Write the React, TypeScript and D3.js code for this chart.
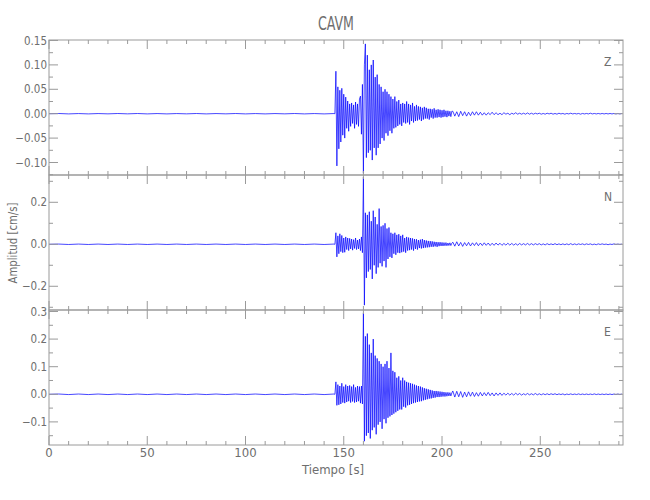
import React from 'react';
import * as d3 from 'd3';

// ---- text ----
const TITLE = 'CAVM';
const X_LABEL = 'Tiempo [s]';
const Y_LABEL = 'Amplitud [cm/s]';
const COMPONENTS = ['Z', 'N', 'E'];

// ---- axes ----
const X_DOMAIN = [0, 292.1];
const X_TICKS = [0, 50, 100, 150, 200, 250];
const X_MINOR_STEP = 10;

const Z_DOMAIN = [-0.1256, 0.151];
const Z_TICKS = [0.15, 0.1, 0.05, 0.0, -0.05, -0.1];
const Z_TICK_LABELS = ['0.15', '0.10', '0.05', '0.00', '\u22120.05', '\u22120.10'];
const Z_MINOR_STEP = 0.025;

const N_DOMAIN = [-0.313, 0.33];
const N_TICKS = [0.2, 0.0, -0.2];
const N_TICK_LABELS = ['0.2', '0.0', '\u22120.2'];
const N_MINOR_STEP = 0.1;

const E_DOMAIN = [-0.1837, 0.3054];
const E_TICKS = [0.3, 0.2, 0.1, 0.0, -0.1];
const E_TICK_LABELS = ['0.3', '0.2', '0.1', '0.0', '\u22120.1'];
const E_MINOR_STEP = 0.05;

// ---- sampled traces (values in 0.001 cm/s) ----
const NOISE_START = 0;
const NOISE_STEP = 5;
const ACTIVE_START = 145.5;
const ACTIVE_STEP = 0.5;
const TAIL_STEP = 1;

const Z_NOISE = [0, 0.4, -0.4, 0.3, -0.4, 0.3, -0.3, 0.4, -0.3, 0.4, -0.4, 0.3, -0.4, 0.3, -0.3, 0.4, -0.4, 0.3, -0.3, 0.4, -0.4, 0.3, -0.4, 0.3, -0.3, 0.4, -0.4, 0.3, -0.4, 0.3];
const Z_ACTIVE = [0, 87, -107, 55, -72, 48, -58, 52, -44, 40, -50, 34, -30, 26, -36, 20, -26, 22, -20, 18, -30, 24, -22, 20, -26, 30, 36, -42, 60, -122, 100, 143, -90, 120, -80, 90, -75, 100, -95, 110, -70, 75, -85, 80, -70, 60, -62, 55, -50, 45, -55, 50, -40, 45, -45, 40, -35, 35, -40, 30, -30, 35, -28, 25, -25, 28, -22, 20, -25, 22, -18, 20, -20, 25, -18, 20, -22, 18, -15, 22, -18, 15, -15, 18, -14, 15, -12, 14, -15, 12, -12, 14, -10, 12, -10, 10, -12, 10, -8, 9, -10, 11, -8, 8, -8, 9, -7, 8, -8, 7, -7, 8, -6, 6, -7, 6, -5, 5, -6, 5];
const Z_TAIL = [5, -5, 4, -6, 5, -4, 4, -5, 3, -4, 4, -3, 4, -3, 3, -3, 2, -3, 2, -2, 3, -2, 2, -2, 1, -2, 2, -1, 1, -2, 1, -1, 2, -1, 1, -1, 1, -1, 1.5, -1, 1, -1, 1, -0.5, 1, -1, 0.5, -1, 1, -0.5, 1, -1, 0.5, -1, 1, -0.5, 0.5, -1, 0.5, -0.5, 1, -0.5, 0.5, -0.5, 0.5, -1, 0.5, -0.5, 0.5, -0.5, 1, -0.5, 0.5, -0.5, 0.5, -0.5, 0.5, -0.5, 0.5, -0.5, 0.5, -0.5, 0.5, -0.5, 0.5, -0.5, 0.5];

const N_NOISE = [0, 1, -1, 1, -1, 1, -1, 1, -1, 1, -1, 1, -1, 1, -1, 1, -1, 1, -1, 1, -1, 1, -1, 1, -1, 1, -1, 1, -1, 1];
const N_ACTIVE = [0, 55, -60, 40, -45, 50, -35, 42, -40, 30, -38, 35, -25, 30, -30, 28, -22, 25, -28, 22, -20, 30, -25, 20, -22, 25, -30, 35, -40, 320, -290, 150, -160, 140, -130, 155, -120, 110, -165, 160, -100, 130, -140, 95, -110, 170, -90, 85, -105, 90, -80, 100, -110, 75, -70, 80, -60, 55, -65, 50, -45, 55, -50, 45, -40, 48, -42, 40, -38, 45, -35, 30, -40, 35, -30, 32, -28, 30, -25, 28, -30, 25, -22, 24, -25, 20, -18, 22, -20, 25, -18, 20, -16, 18, -15, 16, -14, 15, -12, 14, -12, 12, -10, 11, -12, 10, -9, 10, -8, 9, -8, 8, -7, 8, -7, 6, -6, 7, -6, 5];
const N_TAIL = [10, -9, 12, -8, 9, -10, 8, -7, 9, -8, 7, -6, 8, -7, 6, -6, 7, -5, 6, -6, 5, -5, 6, -4, 5, -5, 4, -4, 5, -4, 4, -4, 3, -4, 4, -3, 3, -3, 4, -3, 3, -3, 3, -2, 3, -3, 2, -3, 3, -2, 2, -2, 3, -2, 2, -2, 2, -2, 2, -2, 3, -2, 2, -2, 2, -1, 2, -2, 2, -1, 2, -2, 1, -2, 2, -1, 2, -1, 1, -2, 1, -1, 2, -1, 1, -1, 1];

const E_NOISE = [0, 1, -1, 1, -1, 1, -1, 1, -1, 1, -1, 1, -1, 1, -1, 1, -1, 1, -1, 1, -1, 1, -1, 1, -1, 1, -1, 1, -1, 1];
const E_ACTIVE = [0, 45, -40, 35, -38, 30, -35, 40, -30, 28, -32, 35, -28, 30, -25, 32, -30, 28, -26, 35, -30, 25, -28, 30, -25, 28, -32, 30, -35, 295, -170, 210, -150, 220, -140, 180, -160, 150, -130, 200, -120, 140, -145, 130, -110, 120, -100, 110, -125, 100, -90, 110, -105, 120, -85, 95, -80, 150, -75, 85, -70, 80, -65, 60, -60, 65, -55, 50, -55, 60, -45, 50, -48, 45, -40, 42, -38, 40, -35, 38, -32, 35, -30, 32, -28, 30, -26, 28, -25, 25, -22, 22, -20, 20, -18, 18, -16, 16, -15, 14, -13, 12, -12, 12, -10, 11, -10, 10, -9, 9, -8, 8, -8, 7, -7, 7, -6, 6, -6, 5];
const E_TAIL = [12, -10, 11, -9, 10, -11, 8, -9, 9, -7, 8, -8, 6, -7, 7, -6, 6, -5, 7, -5, 5, -6, 5, -4, 5, -4, 4, -3, 4, -3, 3, -3, 4, -2, 3, -3, 2, -2, 3, -2, 2, -2, 3, -2, 2, -2, 2, -1.5, 2, -1.5, 2, -1, 2, -1.5, 1.5, -1, 1.5, -2, 1, -1, 1.5, -1, 1, -1, 1.5, -1, 1, -1, 1, -1, 1, -1, 1.5, -1, 1, -1, 1, -1, 1, -1, 1, -1, 1, -1, 1, -1, 1];

const FONT = "'Liberation Sans Narrow', 'DejaVu Sans Condensed', sans-serif";
const AXIS_COLOR = '#9a9a9a';
const TEXT_COLOR = '#6e6e6e';
const TRACE_COLOR = '#0000ff';

function buildSeries(noise: number[], active: number[], tail: number[]): [number, number][] {
  const pts: [number, number][] = [];
  noise.forEach((v, i) => pts.push([NOISE_START + i * NOISE_STEP, v / 1000]));
  active.forEach((v, i) => pts.push([ACTIVE_START + i * ACTIVE_STEP, v / 1000]));
  const tailStart = ACTIVE_START + active.length * ACTIVE_STEP;
  tail.forEach((v, i) => pts.push([tailStart + i * TAIL_STEP, v / 1000]));
  return pts;
}

export default function App() {
  const W = 650, H = 500;
  const left = 49, right = 623;
  const tops = [40, 175, 310];
  const ph = 135;
  const x = d3.scaleLinear().domain(X_DOMAIN).range([left, right]);

  const panels = [
    { label: COMPONENTS[0], domain: Z_DOMAIN, ticks: Z_TICKS, tickLabels: Z_TICK_LABELS, minor: Z_MINOR_STEP, data: buildSeries(Z_NOISE, Z_ACTIVE, Z_TAIL) },
    { label: COMPONENTS[1], domain: N_DOMAIN, ticks: N_TICKS, tickLabels: N_TICK_LABELS, minor: N_MINOR_STEP, data: buildSeries(N_NOISE, N_ACTIVE, N_TAIL) },
    { label: COMPONENTS[2], domain: E_DOMAIN, ticks: E_TICKS, tickLabels: E_TICK_LABELS, minor: E_MINOR_STEP, data: buildSeries(E_NOISE, E_ACTIVE, E_TAIL) },
  ];

  const xMinor = d3.range(0, X_DOMAIN[1], X_MINOR_STEP).filter((v) => v % 50 !== 0);
  const MAJ = 9, MIN = 4;

  return (
    <svg width={W} height={H} style={{ position: 'absolute', left: 0, top: 0, background: '#fff' }}>
      <defs>
        {panels.map((p, i) => (
          <clipPath id={`clip${i}`} key={i}>
            <rect x={left} y={tops[i]} width={right - left} height={ph} />
          </clipPath>
        ))}
      </defs>
      <text x={336} y={30} textAnchor="middle" fontFamily={FONT} fontSize={20} fill={TEXT_COLOR} textLength={36} lengthAdjust="spacingAndGlyphs">{TITLE}</text>
      {panels.map((p, i) => {
        const top = tops[i], bottom = top + ph;
        const y = d3.scaleLinear().domain(p.domain).range([bottom, top]);
        const line = d3.line<[number, number]>().x((d) => x(d[0])).y((d) => y(d[1]));
        const start = Math.ceil(p.domain[0] / p.minor - 1e-6);
        const end = Math.floor(p.domain[1] / p.minor + 1e-6);
        const yMinor = d3.range(start, end + 1).map((k) => k * p.minor)
          .filter((v) => !p.ticks.some((t) => Math.abs(t - v) < 1e-6));
        return (
          <g key={i}>
            <path d={line(p.data) || ''} fill="none" stroke={TRACE_COLOR} strokeWidth={0.8} strokeOpacity={0.9} clipPath={`url(#clip${i})`} />
            <rect x={left} y={top} width={right - left} height={ph} fill="none" stroke={AXIS_COLOR} strokeWidth={1} />
            {X_TICKS.map((t) => (
              <g key={`xm${t}`}>
                <line x1={x(t)} x2={x(t)} y1={top} y2={top + MAJ} stroke={AXIS_COLOR} />
                <line x1={x(t)} x2={x(t)} y1={bottom} y2={bottom - MAJ} stroke={AXIS_COLOR} />
              </g>
            ))}
            {xMinor.map((t) => (
              <g key={`xn${t}`}>
                <line x1={x(t)} x2={x(t)} y1={top} y2={top + MIN} stroke={AXIS_COLOR} />
                <line x1={x(t)} x2={x(t)} y1={bottom} y2={bottom - MIN} stroke={AXIS_COLOR} />
              </g>
            ))}
            {p.ticks.map((t, k) => (
              <g key={`ym${k}`}>
                <line x1={left} x2={left + MAJ} y1={y(t)} y2={y(t)} stroke={AXIS_COLOR} />
                <line x1={right} x2={right - MAJ} y1={y(t)} y2={y(t)} stroke={AXIS_COLOR} />
                <text x={left - 2} y={y(t)} dy="0.35em" textAnchor="end" fontFamily={FONT} fontSize={11.5} fill={TEXT_COLOR}>{p.tickLabels[k]}</text>
              </g>
            ))}
            {yMinor.map((t, k) => (
              <g key={`yn${k}`}>
                <line x1={left} x2={left + MIN} y1={y(t)} y2={y(t)} stroke={AXIS_COLOR} />
                <line x1={right} x2={right - MIN} y1={y(t)} y2={y(t)} stroke={AXIS_COLOR} />
              </g>
            ))}
            <text x={604} y={top + 26} fontFamily={FONT} fontSize={12} fill={TEXT_COLOR}>{p.label}</text>
          </g>
        );
      })}
      {X_TICKS.map((t) => (
        <text key={`xl${t}`} x={x(t)} y={457} textAnchor="middle" fontFamily={FONT} fontSize={13} fill={TEXT_COLOR}>{t}</text>
      ))}
      <text x={333} y={474} textAnchor="middle" fontFamily={FONT} fontSize={13} fill={TEXT_COLOR}>{X_LABEL}</text>
      <text transform={`translate(17,243) rotate(-90)`} textAnchor="middle" fontFamily={FONT} fontSize={13} fill={TEXT_COLOR} textLength={81} lengthAdjust="spacingAndGlyphs">{Y_LABEL}</text>
    </svg>
  );
}
